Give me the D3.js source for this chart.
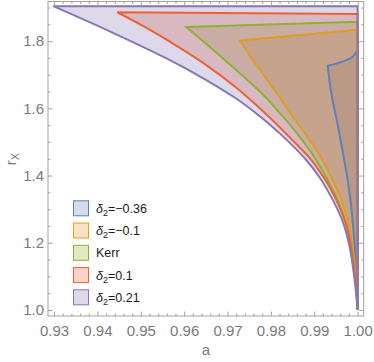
<!DOCTYPE html>
<html>
<head>
<meta charset="utf-8">
<script src="https://cdn.jsdelivr.net/npm/d3@7"></script>
<style>
  body { margin: 0; background: #fff; }
  svg { display: block; font-family: "Liberation Sans", Arial, sans-serif; }
</style>
</head>
<body>
<svg id="chart" width="374" height="362"></svg>
<script>
// legend labels, in plot order
const seriesKeys = ["m036", "m01", "kerr", "p01", "p021"];
const seriesColors = ["#5E81B5", "#E19C24", "#8FB032", "#EB6235", "#8778B3"];

// upper edge of each region: from its left corner to a = 1
const upperM036 = [[0.9931,1.727],[0.9950,1.733],[0.9973,1.743],[0.9988,1.753],[0.9998,1.770],[1.0,1.776]];
const upperM01  = [[0.9729,1.802],[1.0,1.834]];
const upperKerr = [[0.9605,1.842],[1.0,1.858]];
const upperP01  = [[0.9446,1.886],[1.0,1.881]];
const upperP021 = [[0.9298,1.904],[1.0,1.904]];

// lower edge of each region: from the same corner down to a = 1, r = 1
const lowerM036 = [[0.9931,1.727],[0.9938,1.655],[0.9946,1.601],[0.9954,1.551],[0.9962,1.497],[0.9970,1.440],
  [0.9977,1.387],[0.9984,1.321],[0.9990,1.243],[0.9995,1.154],[0.9998,1.073],[1.0,1.0]];
const lowerM01 = [[0.9729,1.802],[0.9750,1.760],[0.9773,1.718],[0.9796,1.676],[0.9812,1.648],[0.9850,1.576],
  [0.9889,1.506],[0.9916,1.452],[0.9939,1.396],[0.9962,1.330],[0.9977,1.267],[0.9990,1.172],[0.9997,1.076],[1.0,1.0]];
const lowerKerr = [[0.9605,1.842],[0.9681,1.758],[0.9758,1.670],[0.9796,1.622],[0.9819,1.588],[0.9850,1.542],
  [0.9896,1.463],[0.9927,1.396],[0.9954,1.327],[0.9973,1.258],[0.9985,1.178],[0.9995,1.088],[1.0,1.0]];
const lowerP01 = [[0.9446,1.886],[0.9508,1.843],[0.9565,1.800],[0.9642,1.737],[0.9719,1.663],[0.9773,1.602],
  [0.9796,1.574],[0.9819,1.545],[0.9850,1.505],[0.9889,1.453],[0.9904,1.428],[0.9935,1.367],[0.9958,1.307],
  [0.9977,1.239],[0.9990,1.142],[0.9997,1.058],[1.0,1.0]];
const lowerP021 = [[0.9298,1.904],[0.9432,1.827],[0.9565,1.745],[0.9642,1.691],[0.9719,1.630],[0.9773,1.578],
  [0.9796,1.553],[0.9819,1.527],[0.9850,1.489],[0.9881,1.447],[0.9912,1.395],[0.9942,1.329],[0.9965,1.265],
  [0.9981,1.192],[0.9992,1.100],[1.0,1.0]];

// tick labels
const xTicks = [0.93, 0.94, 0.95, 0.96, 0.97, 0.98, 0.99, 1.00];
const yTicks = [1.0, 1.2, 1.4, 1.6, 1.8];

const uppers = [upperM036, upperM01, upperKerr, upperP01, upperP021];
const lowers = [lowerM036, lowerM01, lowerKerr, lowerP01, lowerP021];

const width = 374, height = 362;
const margin = {left: 48, right: 10.3, top: 1.5, bottom: 46};

const svg = d3.select("#chart");

const x = d3.scaleLinear([0.9286, 1.0014], [margin.left, width - margin.right]);
const y = d3.scaleLinear([0.982, 1.918], [height - margin.bottom, margin.top]);

const lineGen = d3.line()
  .x(d => x(d[0]))
  .y(d => y(d[1]))
  .curve(d3.curveCatmullRom.alpha(0.5));

function regionPath(upper, lower) {
  const top = lineGen(upper);
  const bottom = lineGen(lower.slice().reverse()).replace(/^M/, "L");
  return top + bottom + "Z";
}

// region fills first, boundaries on top
const fills = svg.append("g");
const edges = svg.append("g");
seriesKeys.forEach((k, i) => {
  const d = regionPath(uppers[i], lowers[i]);
  fills.append("path")
    .attr("d", d)
    .attr("fill", seriesColors[i])
    .attr("fill-opacity", 0.28)
    .attr("stroke", "none");
  edges.append("path")
    .attr("d", d)
    .attr("fill", "none")
    .attr("stroke", seriesColors[i])
    .attr("stroke-width", 2)
    .attr("stroke-linejoin", "miter");
});

// frame + ticks
const frameColor = "#a2a2a2";
const labelColor = "#7a7a7a";
const xMinor = d3.range(465, 501).filter(i => i % 5 !== 0).map(i => i * 0.002);
const yMinor = d3.range(20, 39).filter(i => i % 4 !== 0).map(i => i * 0.05);

function styleAxis(g) {
  g.select(".domain").remove();
  g.selectAll(".tick line").attr("stroke", frameColor);
  g.selectAll(".tick text").attr("fill", labelColor).style("font-size", "15px")
    .style("font-family", "'Liberation Sans', Arial, sans-serif");
}

const bottomY = y.range()[0], topY = y.range()[1];
const leftX = x.range()[0], rightX = x.range()[1];

svg.append("g").attr("transform", `translate(0,${bottomY})`)
  .call(d3.axisBottom(x).tickValues(xTicks).tickSize(-4.5).tickPadding(9).tickFormat(d3.format(".2f")))
  .call(styleAxis);
svg.append("g").attr("transform", `translate(0,${bottomY})`)
  .call(d3.axisBottom(x).tickValues(xMinor).tickSize(-2.5).tickFormat(""))
  .call(styleAxis);
svg.append("g").attr("transform", `translate(0,${topY})`)
  .call(d3.axisTop(x).tickValues(xTicks).tickSize(-4.5).tickFormat(""))
  .call(styleAxis);
svg.append("g").attr("transform", `translate(0,${topY})`)
  .call(d3.axisTop(x).tickValues(xMinor).tickSize(-2.5).tickFormat(""))
  .call(styleAxis);

svg.append("g").attr("transform", `translate(${leftX},0)`)
  .call(d3.axisLeft(y).tickValues(yTicks).tickSize(-4.5).tickPadding(4).tickFormat(d3.format(".1f")))
  .call(styleAxis);
svg.append("g").attr("transform", `translate(${leftX},0)`)
  .call(d3.axisLeft(y).tickValues(yMinor).tickSize(-2.5).tickFormat(""))
  .call(styleAxis);
svg.append("g").attr("transform", `translate(${rightX},0)`)
  .call(d3.axisRight(y).tickValues(yTicks).tickSize(-4.5).tickFormat(""))
  .call(styleAxis);
svg.append("g").attr("transform", `translate(${rightX},0)`)
  .call(d3.axisRight(y).tickValues(yMinor).tickSize(-2.5).tickFormat(""))
  .call(styleAxis);

svg.append("rect")
  .attr("x", leftX).attr("y", topY)
  .attr("width", rightX - leftX).attr("height", bottomY - topY)
  .attr("fill", "none").attr("stroke", frameColor).attr("stroke-width", 1);

// axis labels
svg.append("text")
  .attr("x", (leftX + rightX) / 2).attr("y", 355)
  .attr("text-anchor", "middle")
  .attr("fill", labelColor).style("font-size", "15px")
  .text("a");

const yl = svg.append("text")
  .attr("transform", "translate(16,159) rotate(-90)")
  .attr("text-anchor", "middle")
  .attr("fill", labelColor).style("font-size", "15px");
yl.append("tspan").text("r");
yl.append("tspan").attr("dy", 3).style("font-size", "11px").text("X");

// legend
const legendRows = [
  {sym: true, text: "=\u22120.36"},
  {sym: true, text: "=\u22120.1"},
  {sym: false, text: "Kerr"},
  {sym: true, text: "=0.1"},
  {sym: true, text: "=0.21"}
];
const legend = svg.append("g").attr("transform", "translate(73.5,208.3)");
legendRows.forEach((row, i) => {
  const g = legend.append("g").attr("transform", `translate(0,${i * 22.25})`);
  g.append("rect")
    .attr("x", 0).attr("y", -7.5).attr("width", 15).attr("height", 15)
    .attr("fill", seriesColors[i]).attr("fill-opacity", 0.28)
    .attr("stroke", seriesColors[i]).attr("stroke-width", 1);
  const t = g.append("text")
    .attr("x", 22.5).attr("y", 4.5)
    .attr("fill", "#1a1a1a").style("font-size", "12.5px");
  if (row.sym) {
    t.append("tspan").style("font-style", "italic").text("\u03b4");
    t.append("tspan").attr("dy", 3).style("font-size", "9px").text("2");
    t.append("tspan").attr("dy", -3).text(row.text);
  } else {
    t.text(row.text);
  }
});
</script>
</body>
</html>
